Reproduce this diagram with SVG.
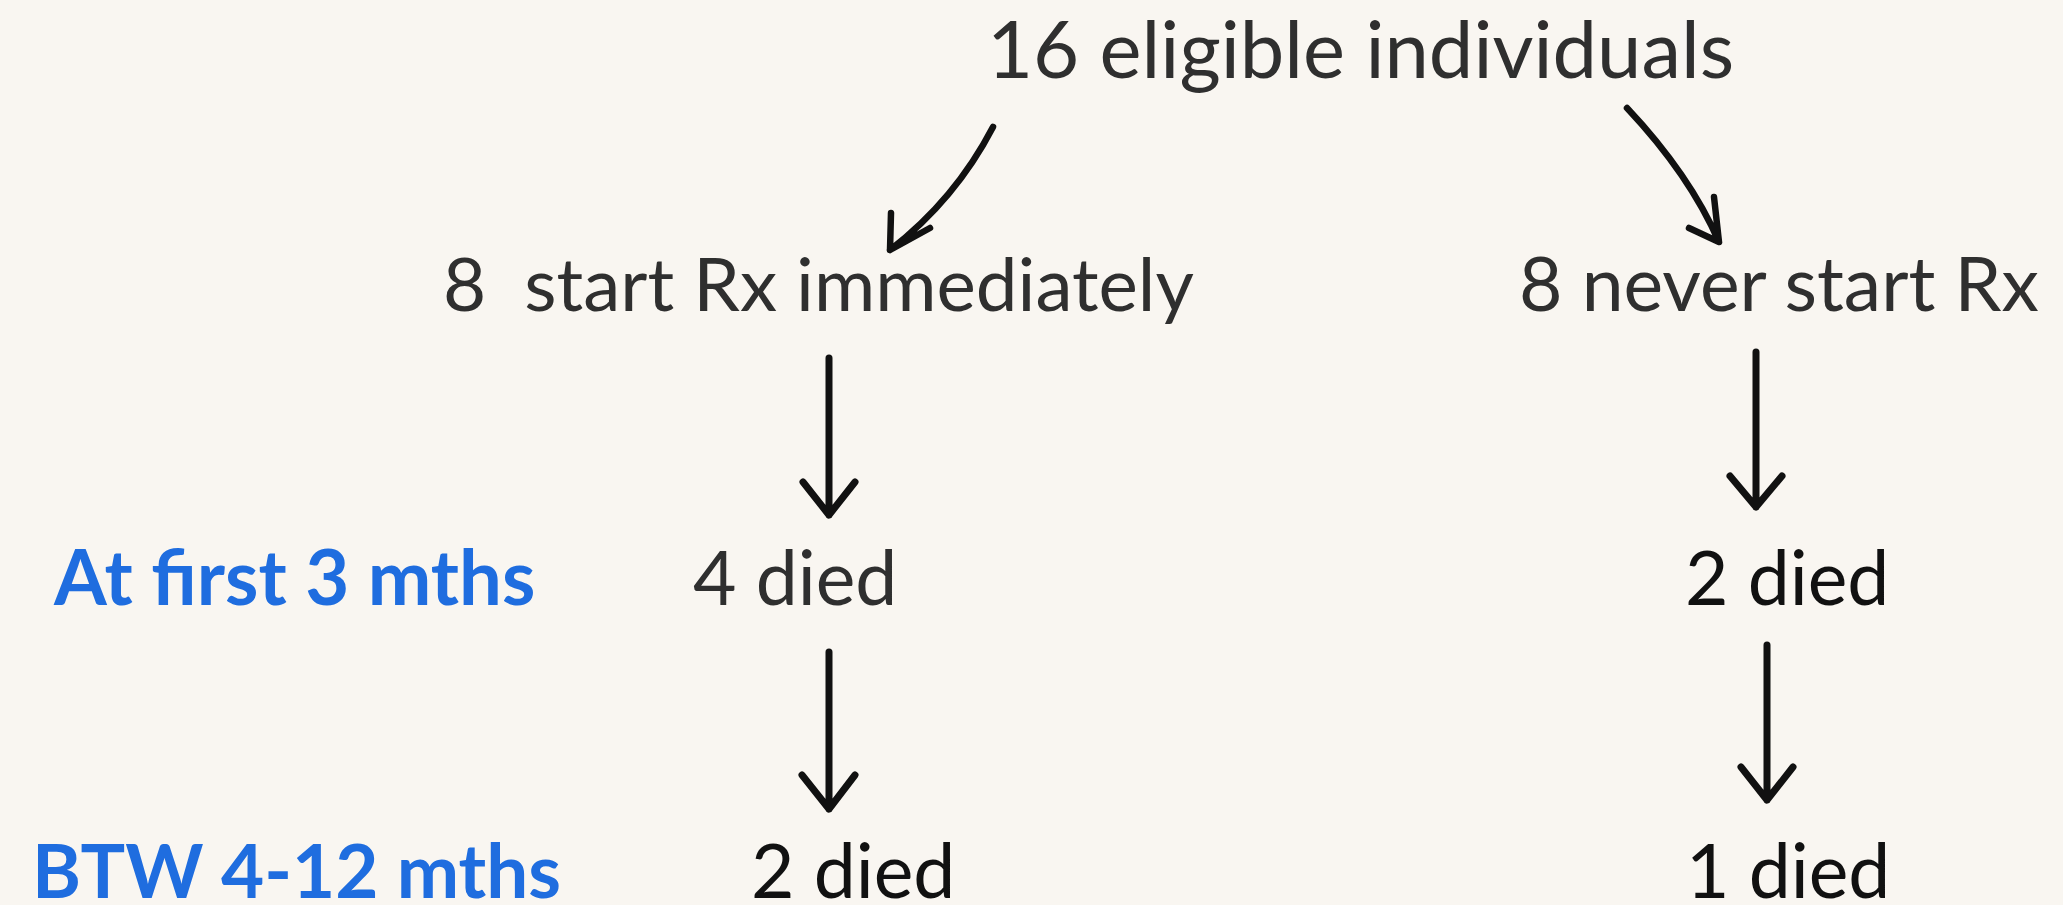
<svg xmlns="http://www.w3.org/2000/svg" width="2063" height="905" viewBox="0 0 2063 905">
<style>
.t{font-family:Lato,"Noto Sans",sans-serif;font-size:75px;fill:#2f2f2f;white-space:pre}
.k{fill:#111}
.b{font-family:Lato,"Noto Sans",sans-serif;font-size:75.5px;font-weight:bold;fill:#1f6ddf}
.c{fill:none;stroke:#111;stroke-width:7;stroke-linecap:round;stroke-linejoin:round}
.cc{stroke-width:6.5}
</style>
<rect width="2063" height="905" fill="#f9f6f1"/>
<g id="title"><text class="t" x="987" y="78" style="font-size:79.5px">16 eligible individuals</text></g>
<g id="start"><text class="t" x="443" y="311" xml:space="preserve" style="font-size:74.5px">8  start Rx immediately</text></g>
<g id="never"><text class="t" x="1519" y="311">8 never start Rx</text></g>
<g id="label1"><text class="b" x="54" y="605" style="font-size:76px">At first 3 mths</text></g>
<g id="label2"><text class="b" x="32" y="898" style="font-size:74.5px">BTW 4-12 mths</text></g>
<g id="died4"><text class="t" x="693" y="605">4 died</text></g>
<g id="died2r"><text class="t k" x="1685" y="605">2 died</text></g>
<g id="died2l"><text class="t k" x="751" y="898">2 died</text></g>
<g id="died1"><text class="t k" x="1686" y="898">1 died</text></g>
<g id="connectors">
<path class="c cc" d="M993,127 Q955,200 890,250 M891,213 L890,250 L930,228"/>
<path class="c cc" d="M1627,108 Q1690,175 1719,242 M1714,197 L1719,242 L1689,228"/>
<path class="c" d="M829,358 V515 M803,482 L829,515 L855,482"/>
<path class="c" d="M1756,352 V507 M1730,476 L1756,507 L1782,476"/>
<path class="c" d="M829,652 V809 M802,775 L829,809 L855,775"/>
<path class="c" d="M1767,645 V800 M1741,767 L1767,800 L1793,767"/>
</g>
</svg>
